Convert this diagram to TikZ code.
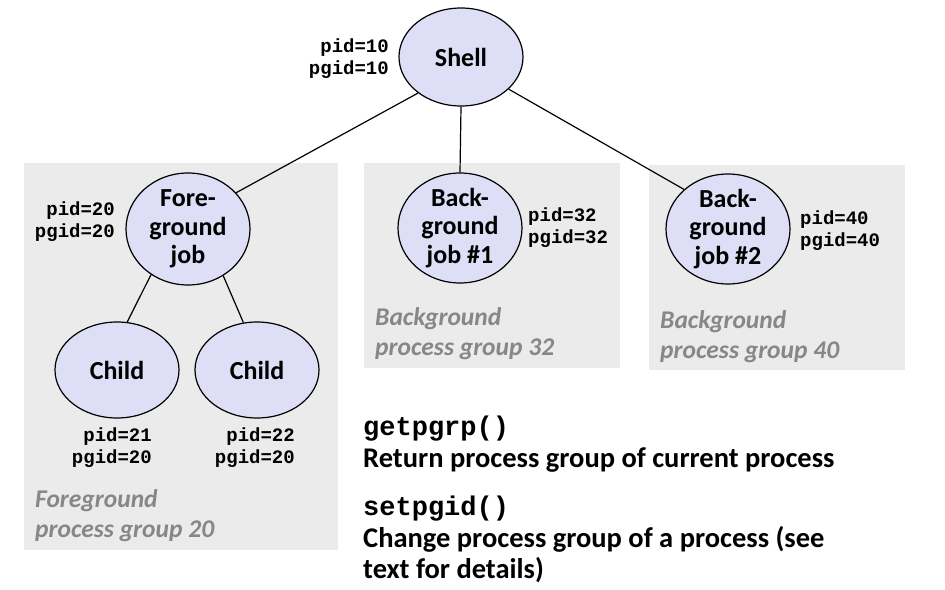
\documentclass[tikz,border=0pt]{standalone}
\usepackage{fontspec}
\setmainfont{Carlito}
\newfontfamily\codefont{Liberation Mono}
\usetikzlibrary{shapes.geometric}
\definecolor{jobfill}{RGB}{222,222,246}
\definecolor{groupbg}{RGB}{235,235,235}
\definecolor{grouptext}{RGB}{135,135,135}
\begin{document}
\begin{tikzpicture}[x=1pt, y=-1pt,
        proc/.style={draw, ellipse, fill=jobfill, line width=1.2pt, inner sep=-3pt,
            minimum width=124pt, align=center, font=\fontsize{26}{28.5}\selectfont\bfseries},
        ids/.style={inner sep=0pt, font=\fontsize{19}{21.5}\selectfont\codefont\bfseries},
        grouplabel/.style={inner sep=0pt, anchor=base west, align=left, text=grouptext,
            font=\fontsize{25.5}{30}\selectfont\bfseries\itshape},
        call/.style={inner sep=0pt, anchor=base west, font=\fontsize{27}{32}\selectfont\codefont\bfseries},
        note/.style={inner sep=0pt, anchor=base west, align=left, font=\fontsize{28.5}{31}\selectfont\bfseries},
        link/.style={line width=1.2pt}]
            \useasboundingbox (0,0) rectangle (945,589);

            % process groups
            \fill[groupbg] (24,163) rectangle (338,550);
            \fill[groupbg] (364,163) rectangle (620,368);
            \fill[groupbg] (649,165) rectangle (905,370);

            \draw (461,57) node[proc, minimum height=98pt] (shell) {Shell};
            \draw (188,229) node[proc, minimum height=112pt] (fg) {Fore-\\ground\\job};
            \draw (460,228) node[proc, minimum height=110pt] (bg1) {Back-\\ground\\job \#1};
            \draw (728,229) node[proc, minimum height=110pt] (bg2) {Back-\\ground\\job \#2};
            \draw (117,370) node[proc, minimum height=96pt] (child1) {Child};
            \draw (257,370) node[proc, minimum height=96pt] (child2) {Child};

            \draw[link] (shell.220) -- (fg.37);
            \draw[link] (shell.south) -- (bg1.north);
            \draw[link] (shell.-34) -- (bg2.138);
            \draw[link] (fg.231) -- (child1.78);
            \draw[link] (fg.307) -- (child2.106);

            % ids, placed at the baseline of their last line
            \node[ids, anchor=base east, align=right] (shellid) at (389,74) {pid=10\\pgid=10};
            \node[ids, anchor=base east, align=right] (fgid) at (115,237) {pid=20\\pgid=20};
            \node[ids, anchor=base east, align=right] (child1id) at (152,463) {pid=21\\pgid=20};
            \node[ids, anchor=base east, align=right] (child2id) at (295,463) {pid=22\\pgid=20};
            \node[ids, anchor=base west, align=left] (bg1id) at (528,243) {pid=32\\pgid=32};
            \node[ids, anchor=base west, align=left] (bg2id) at (800,246) {pid=40\\pgid=40};

            \node[grouplabel] (fglabel) at (35,537) {Foreground\\process group 20};
            \node[grouplabel] (bg1label) at (375,355) {Background\\process group 32};
            \node[grouplabel] (bg2label) at (660,358) {Background\\process group 40};

            \node[call] (getcall) at (363,435) {getpgrp()};
            \node[note] (getnote) at (363,467) {Return process group of current process};
            \node[call] (setcall) at (363,515) {setpgid()};
            \node[note] (setnote) at (363,578) {Change process group of a process (see\\text for details)};
        \end{tikzpicture}
\end{document}
